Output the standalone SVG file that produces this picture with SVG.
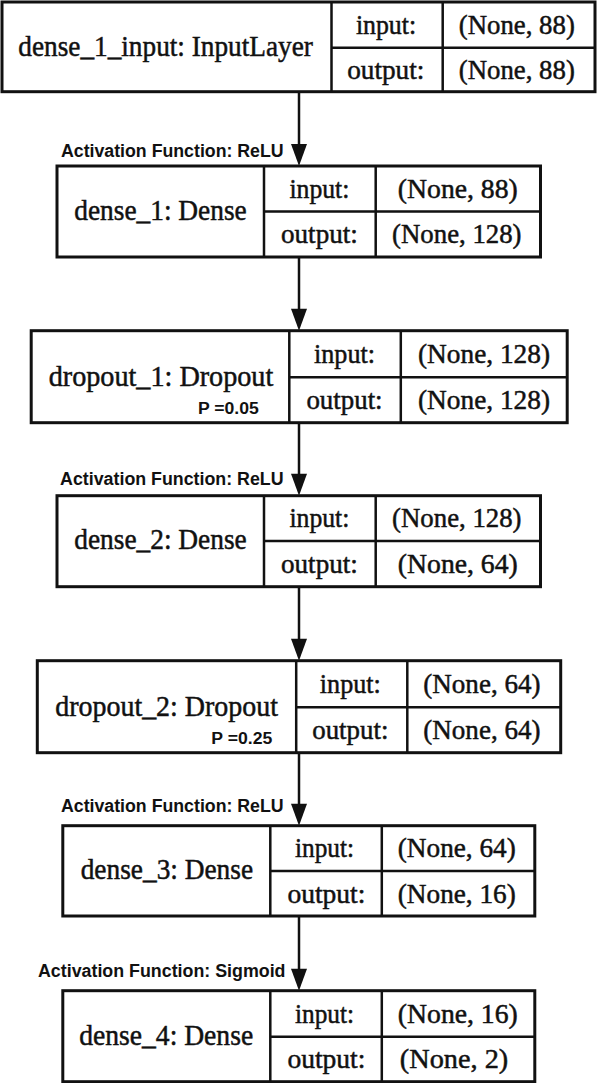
<svg xmlns="http://www.w3.org/2000/svg" width="597" height="1083" viewBox="0 0 597 1083">
<style>
.bx{fill:#fff;stroke:#111;stroke-width:3}
.dv{stroke:#111;stroke-width:2.5;fill:none}
.nm{font-family:"Liberation Serif","Times New Roman",serif;font-size:30px;fill:#111;stroke:#111;stroke-width:0.5;text-anchor:middle}
.cl{font-family:"Liberation Serif","Times New Roman",serif;font-size:28px;fill:#111;stroke:#111;stroke-width:0.5;text-anchor:middle}
.lb{font-family:"Liberation Sans",Arial,sans-serif;font-weight:bold;font-size:18px;fill:#111}
.pp{font-family:"Liberation Sans",Arial,sans-serif;font-weight:bold;font-size:16px;fill:#111;text-anchor:middle}
.ln{stroke:#111;stroke-width:2.5;fill:none}
.ah{fill:#111}
</style>
<g id="connectors">
<line class="ln" x1="299" y1="92" x2="299" y2="150"/><polygon class="ah" points="299,166 291,144 307,144"/>
<line class="ln" x1="299" y1="257" x2="299" y2="315"/><polygon class="ah" points="299,330.7 291,308.7 307,308.7"/>
<line class="ln" x1="299" y1="422.7" x2="299" y2="480"/><polygon class="ah" points="299,495.7 291,473.7 307,473.7"/>
<line class="ln" x1="299" y1="586.7" x2="299" y2="645"/><polygon class="ah" points="299,660.7 291,638.7 307,638.7"/>
<line class="ln" x1="299" y1="752.7" x2="299" y2="810"/><polygon class="ah" points="299,825.7 291,803.7 307,803.7"/>
<line class="ln" x1="299" y1="916" x2="299" y2="975"/><polygon class="ah" points="299,990.7 291,968.7 307,968.7"/>
</g>
<g id="node1">
<rect class="bx" x="2" y="2" width="593" height="89.7"/>
<path class="dv" d="M331.5,2V91.7M442.7,2V91.7M331.5,47.7H595"/>
<text class="nm" x="165.6" y="55.5" textLength="294.6" lengthAdjust="spacingAndGlyphs">dense_1_input: InputLayer</text>
<text class="cl" x="386" y="34" textLength="60.2" lengthAdjust="spacingAndGlyphs">input:</text>
<text class="cl" x="516.8" y="34" textLength="116" lengthAdjust="spacingAndGlyphs">(None, 88)</text>
<text class="cl" x="385.8" y="78.8" textLength="77.2" lengthAdjust="spacingAndGlyphs">output:</text>
<text class="cl" x="516.8" y="78.8" textLength="116" lengthAdjust="spacingAndGlyphs">(None, 88)</text>
</g>
<g id="node2">
<text class="lb" x="61" y="157" textLength="222.6" lengthAdjust="spacingAndGlyphs">Activation Function: ReLU</text>
<rect class="bx" x="57" y="166" width="483.5" height="91"/>
<path class="dv" d="M264,166V257M375.7,166V257M264,211.5H540.5"/>
<text class="nm" x="160.5" y="219.7" textLength="172.5" lengthAdjust="spacingAndGlyphs">dense_1: Dense</text>
<text class="cl" x="319.4" y="197.8" textLength="60" lengthAdjust="spacingAndGlyphs">input:</text>
<text class="cl" x="457.8" y="197.8" textLength="120" lengthAdjust="spacingAndGlyphs">(None, 88)</text>
<text class="cl" x="319.4" y="243.1" textLength="76.8" lengthAdjust="spacingAndGlyphs">output:</text>
<text class="cl" x="456.8" y="243.1" textLength="129.5" lengthAdjust="spacingAndGlyphs">(None, 128)</text>
</g>
<g id="node3">
<rect class="bx" x="31.2" y="330.7" width="536" height="92"/>
<path class="dv" d="M289.3,330.7V422.7M400.8,330.7V422.7M289.3,377.3H567.2"/>
<text class="nm" x="161" y="386" textLength="224.6" lengthAdjust="spacingAndGlyphs">dropout_1: Dropout</text>
<text class="pp" x="228.4" y="413.8" textLength="60.8" lengthAdjust="spacingAndGlyphs">P =0.05</text>
<text class="cl" x="344.5" y="363.1" textLength="61" lengthAdjust="spacingAndGlyphs">input:</text>
<text class="cl" x="484" y="363.1" textLength="132" lengthAdjust="spacingAndGlyphs">(None, 128)</text>
<text class="cl" x="344.5" y="409.1" textLength="76.2" lengthAdjust="spacingAndGlyphs">output:</text>
<text class="cl" x="484" y="409.1" textLength="132" lengthAdjust="spacingAndGlyphs">(None, 128)</text>
</g>
<g id="node4">
<text class="lb" x="60.1" y="485" textLength="223.5" lengthAdjust="spacingAndGlyphs">Activation Function: ReLU</text>
<rect class="bx" x="57" y="495.7" width="483.5" height="91"/>
<path class="dv" d="M264,495.7V586.7M375.7,495.7V586.7M264,541H540.5"/>
<text class="nm" x="160.5" y="549.3" textLength="172.5" lengthAdjust="spacingAndGlyphs">dense_2: Dense</text>
<text class="cl" x="319.4" y="527.4" textLength="60" lengthAdjust="spacingAndGlyphs">input:</text>
<text class="cl" x="456.8" y="527.4" textLength="129.5" lengthAdjust="spacingAndGlyphs">(None, 128)</text>
<text class="cl" x="319.4" y="572.9" textLength="76.8" lengthAdjust="spacingAndGlyphs">output:</text>
<text class="cl" x="457.8" y="572.9" textLength="120" lengthAdjust="spacingAndGlyphs">(None, 64)</text>
</g>
<g id="node5">
<rect class="bx" x="37.3" y="660.7" width="523.4" height="92"/>
<path class="dv" d="M296.2,660.7V752.7M407.3,660.7V752.7M296.2,707.3H560.7"/>
<text class="nm" x="166.6" y="715.5" textLength="222.7" lengthAdjust="spacingAndGlyphs">dropout_2: Dropout</text>
<text class="pp" x="241.8" y="743.8" textLength="60.9" lengthAdjust="spacingAndGlyphs">P =0.25</text>
<text class="cl" x="350.3" y="693.1" textLength="60.9" lengthAdjust="spacingAndGlyphs">input:</text>
<text class="cl" x="481.9" y="693.1" textLength="117.2" lengthAdjust="spacingAndGlyphs">(None, 64)</text>
<text class="cl" x="350.3" y="739.1" textLength="76.1" lengthAdjust="spacingAndGlyphs">output:</text>
<text class="cl" x="481.9" y="739.1" textLength="117.2" lengthAdjust="spacingAndGlyphs">(None, 64)</text>
</g>
<g id="node6">
<text class="lb" x="61" y="812" textLength="222.6" lengthAdjust="spacingAndGlyphs">Activation Function: ReLU</text>
<rect class="bx" x="62.8" y="825.7" width="472" height="90.3"/>
<path class="dv" d="M270.3,825.7V916M381.8,825.7V916M270.3,871H534.8"/>
<text class="nm" x="166.9" y="879.3" textLength="172.4" lengthAdjust="spacingAndGlyphs">dense_3: Dense</text>
<text class="cl" x="324.5" y="857.4" textLength="59" lengthAdjust="spacingAndGlyphs">input:</text>
<text class="cl" x="456.8" y="857.4" textLength="118" lengthAdjust="spacingAndGlyphs">(None, 64)</text>
<text class="cl" x="326.4" y="902.6" textLength="78" lengthAdjust="spacingAndGlyphs">output:</text>
<text class="cl" x="456.8" y="902.6" textLength="118" lengthAdjust="spacingAndGlyphs">(None, 16)</text>
</g>
<g id="node7">
<text class="lb" x="38" y="977" textLength="247.5" lengthAdjust="spacingAndGlyphs">Activation Function: Sigmoid</text>
<rect class="bx" x="62.8" y="990.7" width="472" height="91"/>
<path class="dv" d="M270.3,990.7V1081.7M381.8,990.7V1081.7M270.3,1036.7H534.8"/>
<text class="nm" x="166.2" y="1044.5" textLength="173.9" lengthAdjust="spacingAndGlyphs">dense_4: Dense</text>
<text class="cl" x="324.5" y="1022.8" textLength="59" lengthAdjust="spacingAndGlyphs">input:</text>
<text class="cl" x="457.8" y="1022.8" textLength="120" lengthAdjust="spacingAndGlyphs">(None, 16)</text>
<text class="cl" x="326.4" y="1068.3" textLength="78" lengthAdjust="spacingAndGlyphs">output:</text>
<text class="cl" x="454" y="1068.3" textLength="108.5" lengthAdjust="spacingAndGlyphs">(None, 2)</text>
</g>
</svg>
